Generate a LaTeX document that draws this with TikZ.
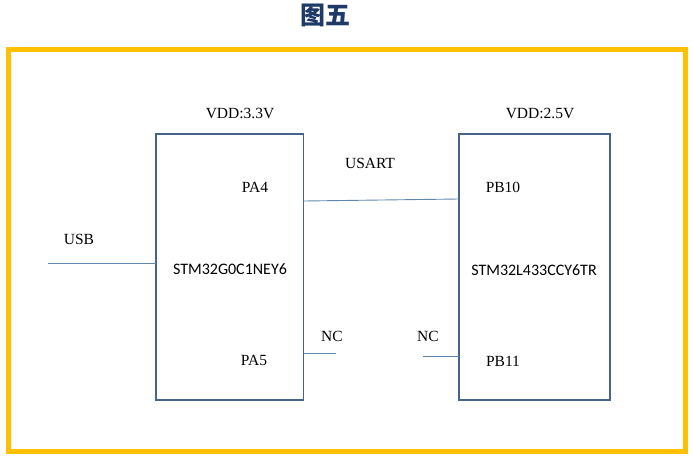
\documentclass[tikz,border=0pt]{standalone}
\usepackage{fontspec}
\setmainfont{Liberation Serif}
\newfontfamily\chipfont{Carlito}
\newfontfamily\cjk{Noto Sans CJK SC}
\definecolor{frameor}{HTML}{FFC000}
\definecolor{boxblue}{HTML}{466488}
\definecolor{wireblue}{HTML}{5F88B0}
\definecolor{titleblue}{HTML}{1F3A66}
\tikzset{
  chip/.style={draw=boxblue, line width=1.8pt},
  wire/.style={draw=wireblue, line width=0.9pt},
  lbl/.style={inner sep=0pt, font=\fontsize{15.5}{17}\selectfont},
  chiplbl/.style={inner sep=0pt, font=\chipfont\fontsize{16}{18}\selectfont},
}
\begin{document}
\begin{tikzpicture}[x=1pt,y=-1pt]
\useasboundingbox (0,0) rectangle (693,461);
\node[inner sep=0pt, text=titleblue, font=\cjk\bfseries\fontsize{25}{28}\selectfont] (title) at (325,15) {图五};
\draw[draw=frameor, line width=5pt] (8.5,49.5) rectangle (685,451.5);
% chips
\draw[chip] (156,134) rectangle (303.5,400);
\draw[chip] (459,134) rectangle (610,400);
\coordinate (L1) at (156,263);
\coordinate (Lw) at (48,263);
\coordinate (U1) at (303.5,201);
\coordinate (U2) at (459,199);
\coordinate (N1a) at (303.5,353);
\coordinate (N1b) at (336,353);
\coordinate (N2a) at (423,356);
\coordinate (N2b) at (459,356);
\draw[wire] (Lw) -- (L1);
\draw[wire] (U1) -- (U2);
\draw[wire] (N1a) -- (N1b);
\draw[wire] (N2a) -- (N2b);
% labels
\node[lbl] (vdd1) at (240,113) {VDD:3.3V};
\node[lbl] (vdd2) at (540,113) {VDD:2.5V};
\node[lbl] (pa4) at (255,187) {PA4};
\node[lbl] (pb10) at (503,187) {PB10};
\node[lbl] (usart) at (370,163) {USART};
\node[lbl] (usb) at (79,239) {USB};
\node[chiplbl] (chipA) at (230,269) {STM32G0C1NEY6};
\node[chiplbl] (chipB) at (534,270) {STM32L433CCY6TR};
\node[lbl] (nc1) at (332,336) {NC};
\node[lbl] (nc2) at (428,336) {NC};
\node[lbl] (pa5) at (254,360) {PA5};
\node[lbl] (pb11) at (503,361) {PB11};
\end{tikzpicture}
\end{document}
